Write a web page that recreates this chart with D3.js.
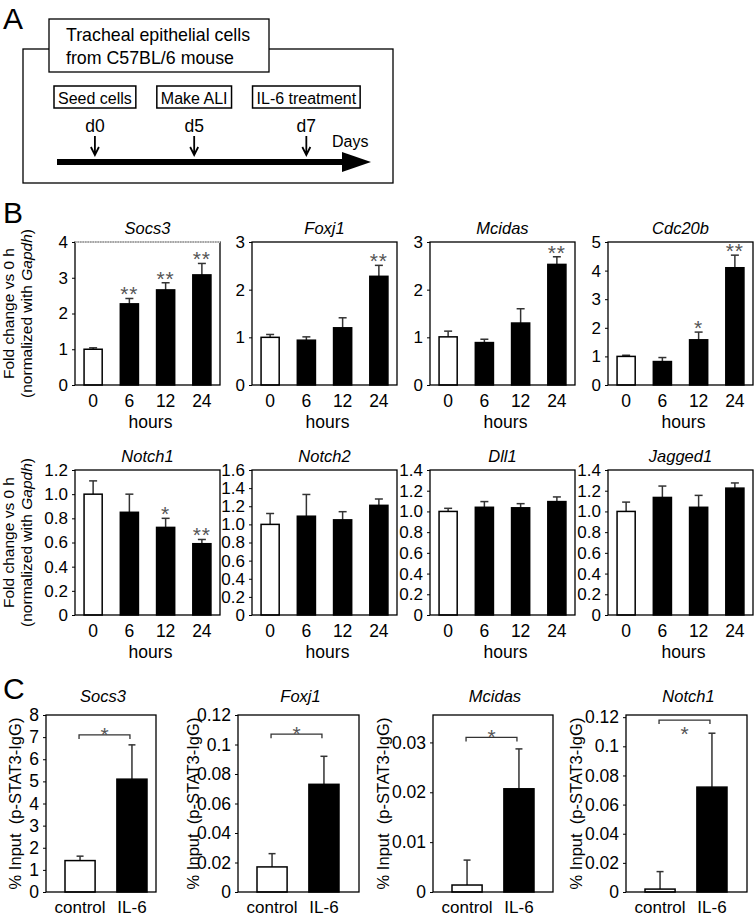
<!DOCTYPE html>
<html>
<head>
<meta charset="utf-8">
<script src="https://cdn.jsdelivr.net/npm/d3@7"></script>
<style>
	body { margin: 0; background: #fff; }
	svg text { font-family: "Liberation Sans", Arial, sans-serif; fill: #000; }
</style>
</head>
<body>
<div id="chart"></div>
<script>

// Panel A: protocol timeline
var titleLines = ["Tracheal epithelial cells", "from C57BL/6 mouse"];
var steps = ["Seed cells", "Make ALI", "IL-6 treatment"];
var stepDays = ["d0", "d5", "d7"];

// Panel B: fold change vs 0 h
var hours = ["0", "6", "12", "24"];
var bGenes = ["Socs3", "Foxj1", "Mcidas", "Cdc20b", "Notch1", "Notch2", "Dll1", "Jagged1"];
var bMeans = [
	[1.00, 2.27, 2.66, 3.08],
	[1.00, 0.94, 1.20, 2.28],
	[1.01, 0.89, 1.30, 2.53],
	[1.00, 0.82, 1.58, 4.10],
	[1.00, 0.85, 0.725, 0.59],
	[1.00, 1.09, 1.05, 1.21],
	[1.00, 1.04, 1.035, 1.095],
	[1.00, 1.135, 1.04, 1.225]
];
var bErrors = [
	[0.04, 0.15, 0.20, 0.32],
	[0.06, 0.07, 0.21, 0.23],
	[0.12, 0.07, 0.30, 0.16],
	[0.04, 0.14, 0.27, 0.44],
	[0.11, 0.15, 0.075, 0.035],
	[0.12, 0.24, 0.09, 0.07],
	[0.03, 0.055, 0.04, 0.045],
	[0.09, 0.11, 0.115, 0.05]
];
var bStars = [
	["", "**", "**", "**"],
	["", "", "", "**"],
	["", "", "", "**"],
	["", "", "*", "**"],
	["", "", "*", "**"],
	["", "", "", ""],
	["", "", "", ""],
	["", "", "", ""]
];
var bMax = [4, 3, 3, 5, 1.2, 1.6, 1.4, 1.4];
var bTicks = [
	[0, 1, 2, 3, 4],
	[0, 1, 2, 3],
	[0, 1, 2, 3],
	[0, 1, 2, 3, 4, 5],
	[0, 0.2, 0.4, 0.6, 0.8, 1.0, 1.2],
	[0, 0.2, 0.4, 0.6, 0.8, 1.0, 1.2, 1.4, 1.6],
	[0, 0.2, 0.4, 0.6, 0.8, 1.0, 1.2, 1.4],
	[0, 0.2, 0.4, 0.6, 0.8, 1.0, 1.2, 1.4]
];

// Panel C: p-STAT3 ChIP
var cGroups = ["control", "IL-6"];
var cGenes = ["Socs3", "Foxj1", "Mcidas", "Notch1"];
var cMeans = [
	[1.42, 5.10],
	[0.017, 0.073],
	[0.0014, 0.0207],
	[0.002, 0.072]
];
var cErrors = [
	[0.20, 1.55],
	[0.009, 0.019],
	[0.005, 0.008],
	[0.012, 0.037]
];
var cMax = [8, 0.12, 0.0355, 0.1215];
var cTicks = [
	[0, 1, 2, 3, 4, 5, 6, 7, 8],
	[0, 0.02, 0.04, 0.06, 0.08, 0.1, 0.12],
	[0, 0.01, 0.02, 0.03],
	[0, 0.02, 0.04, 0.06, 0.08, 0.1, 0.12]
];
var cBracket = [7.1, 0.107, 0.031, 0.118];
var cStars = ["*", "*", "*", "*"];


// Layout
var bCols = [75, 252, 430, 608], bW = 145;
var bRows = [242, 470], bH = [143, 145];
var cCols = [46, 238, 433, 626], cW = [110, 121, 120, 121];
var cTop = 715, cBottom = 892;
var cLabelX = [21, 199, 389, 582];

var svg = d3.select('#chart').append('svg')
	.attr('width', 756)
	.attr('height', 916);


function panelLetter(txt, y) {
	svg.append('text')
		.attr('x', 3).attr('y', y)
		.attr('font-size', 30)
		.text(txt);
}

function leftAxis(g, y, ticks, fmt, size) {
	var ax = g.append('g')
		.attr('transform', 'translate(' + y.x0 + ',0)')
		.call(d3.axisLeft(y).tickValues(ticks).tickSize(3).tickPadding(4).tickFormat(fmt));
	ax.attr('font-size', null).attr('font-family', null);
	ax.select('.domain').remove();
	ax.selectAll('line').attr('stroke', '#000');
	ax.selectAll('text').attr('font-size', size);
	return ax;
}

function errorBar(g, cx, yTop, yEnd, cap) {
	g.append('line')
		.attr('x1', cx).attr('x2', cx)
		.attr('y1', yTop).attr('y2', yEnd)
		.attr('stroke', '#333').attr('stroke-width', 1.5);
	g.append('line')
		.attr('x1', cx - cap / 2).attr('x2', cx + cap / 2)
		.attr('y1', yEnd).attr('y2', yEnd)
		.attr('stroke', '#333').attr('stroke-width', 1.5);
}


/* ---------- Panel A ---------- */
(function() {

	var g = svg.append('g');
	panelLetter('A', 29);

	g.append('rect')
		.attr('x', 23).attr('y', 49).attr('width', 370).attr('height', 134)
		.attr('fill', 'none').attr('stroke', '#000').attr('stroke-width', 1.3);

	g.append('rect')
		.attr('x', 49).attr('y', 19).attr('width', 220).attr('height', 53)
		.attr('fill', '#fff').attr('stroke', '#000').attr('stroke-width', 1.3);

	g.selectAll('.tl').data(titleLines).enter()
		.append('text')
		.attr('x', 66)
		.attr('y', (d, i) => 41 + i * 23)
		.attr('font-size', 17.8)
		.text((d) => d);

	// step boxes laid out left to right, arrow under each box centre
	var xPos = 54, gap = 21, centres = [];
	steps.forEach(function(s, i) {
		var t = g.append('text')
			.attr('y', 104)
			.attr('font-size', 16)
			.attr('text-anchor', 'middle')
			.text(s);
		var w = t.node().getComputedTextLength() + 8;
		var cx = xPos + w / 2;
		t.attr('x', cx);
		g.insert('rect', 'text')
			.attr('x', xPos).attr('y', 86).attr('width', w).attr('height', 22)
			.attr('fill', '#fff').attr('stroke', '#000').attr('stroke-width', 1.5);
		centres.push(cx);
		xPos += w + gap;
	});

	stepDays.forEach(function(d, i) {
		var cx = centres[i];
		g.append('text')
			.attr('x', cx).attr('y', 132)
			.attr('font-size', 17.5)
			.attr('text-anchor', 'middle')
			.text(d);
		g.append('path')
			.attr('d', 'M' + cx + ',136V155M' + (cx - 4) + ',147L' + cx + ',155L' + (cx + 4) + ',147')
			.attr('fill', 'none').attr('stroke', '#000').attr('stroke-width', 1.8);
	});

	g.append('text')
		.attr('x', 332).attr('y', 147)
		.attr('font-size', 16)
		.text('Days');

	g.append('line')
		.attr('x1', 57).attr('x2', 345).attr('y1', 162).attr('y2', 162)
		.attr('stroke', '#000').attr('stroke-width', 6);
	g.append('path')
		.attr('d', 'M342,152L371,162L342,172Z')
		.attr('fill', '#000');
})();


/* ---------- Panel B ---------- */
panelLetter('B', 223);

bGenes.forEach(function(gene, i) {

	var col = i % 4, row = Math.floor(i / 4);
	var x0 = bCols[col], y0 = bRows[row], h = bH[row];
	var g = svg.append('g');

	var x = d3.scaleBand()
		.domain(hours)
		.range([x0, x0 + bW])
		.paddingInner(0.5).paddingOuter(0.25);
	var y = d3.scaleLinear()
		.domain([0, bMax[i]])
		.range([y0 + h, y0]);
	y.x0 = x0;

	var fmt = row === 0 ? d3.format('d') : (d) => d === 0 ? '0' : d3.format('.1f')(d);
	leftAxis(g, y, bTicks[i], fmt, 17);

	g.append('text')
		.attr('x', x0 + bW / 2).attr('y', y0 - 8)
		.attr('font-size', 16.5).attr('font-style', 'italic')
		.attr('text-anchor', 'middle')
		.text(gene);

	hours.forEach(function(hr, j) {
		var v = bMeans[i][j], e = bErrors[i][j];
		var cx = x(hr) + x.bandwidth() / 2;

		errorBar(g, cx, y(v), y(v + e), 8);

		g.append('rect')
			.attr('x', x(hr)).attr('y', y(v))
			.attr('width', x.bandwidth()).attr('height', y(0) - y(v))
			.attr('fill', j === 0 ? '#fff' : '#000')
			.attr('stroke', '#000').attr('stroke-width', 1.5);

		if (bStars[i][j]) {
			g.append('text')
				.attr('x', cx).attr('y', y(v + e) + 3)
				.attr('font-size', 21).attr('letter-spacing', 1)
				.attr('text-anchor', 'middle')
				.style('fill', '#555')
				.text(bStars[i][j]);
		}

		g.append('text')
			.attr('x', cx).attr('y', y0 + h + 22)
			.attr('font-size', 17.5)
			.attr('text-anchor', 'middle')
			.text(hr);
	});

	g.append('text')
		.attr('x', x0 + bW / 2 + 3).attr('y', y0 + h + 43)
		.attr('font-size', 17.5)
		.attr('text-anchor', 'middle')
		.text('hours');

	g.append('rect')
		.attr('x', x0).attr('y', y0).attr('width', bW).attr('height', h)
		.attr('fill', 'none').attr('stroke', '#000').attr('stroke-width', 1.3);

	// first plot has a faint dotted top edge in the original scan
	if (i === 0) {
		g.append('line')
			.attr('x1', x0).attr('x2', x0 + bW).attr('y1', y0).attr('y2', y0)
			.attr('stroke', '#fff').attr('stroke-width', 1.6);
		g.append('line')
			.attr('x1', x0).attr('x2', x0 + bW).attr('y1', y0).attr('y2', y0)
			.attr('stroke', '#777').attr('stroke-width', 1.2)
			.attr('stroke-dasharray', '1.5,1');
	}

	// y label on first column only
	if (col === 0) {
		var cy = y0 + h / 2;
		g.append('text')
			.attr('transform', 'translate(14,' + cy + ') rotate(-90)')
			.attr('font-size', 15.5).attr('text-anchor', 'middle')
			.text('Fold change vs 0 h');
		var t2 = g.append('text')
			.attr('transform', 'translate(32,' + cy + ') rotate(-90)')
			.attr('font-size', 15.5).attr('text-anchor', 'middle');
		t2.append('tspan').text('(normalized with ');
		t2.append('tspan').attr('font-style', 'italic').text('Gapdh');
		t2.append('tspan').text(')');
	}
});


/* ---------- Panel C ---------- */
panelLetter('C', 699);

cGenes.forEach(function(gene, i) {

	var x0 = cCols[i], w = cW[i];
	var g = svg.append('g');

	var x = d3.scaleBand()
		.domain(cGroups)
		.range([x0 + 19, x0 + 101])
		.paddingInner(0.42);
	var y = d3.scaleLinear()
		.domain([0, cMax[i]])
		.range([cBottom, cTop]);
	y.x0 = x0;

	leftAxis(g, y, cTicks[i], (d) => String(d), 17.5);

	g.append('text')
		.attr('x', x0 + w / 2 + 2).attr('y', cTop - 13)
		.attr('font-size', 16.5).attr('font-style', 'italic')
		.attr('text-anchor', 'middle')
		.text(gene);

	cGroups.forEach(function(grp, j) {
		var v = cMeans[i][j], e = cErrors[i][j];
		var cx = x(grp) + x.bandwidth() / 2;

		errorBar(g, cx, y(v), y(v + e), 7);

		g.append('rect')
			.attr('x', x(grp)).attr('y', y(v))
			.attr('width', x.bandwidth()).attr('height', y(0) - y(v))
			.attr('fill', j === 0 ? '#fff' : '#000')
			.attr('stroke', '#000').attr('stroke-width', 1.5);

		g.append('text')
			.attr('x', cx).attr('y', 913)
			.attr('font-size', 17)
			.attr('text-anchor', 'middle')
			.text(grp);
	});

	// significance bracket
	var bx1 = x(cGroups[0]) + x.bandwidth() / 2 - 1;
	var bx2 = x(cGroups[1]) + x.bandwidth() / 2 - 2;
	var by = y(cBracket[i]);
	g.append('path')
		.attr('d', 'M' + bx1 + ',' + (by + 4) + 'V' + by + 'H' + bx2 + 'V' + (by + 4))
		.attr('fill', 'none').attr('stroke', '#333').attr('stroke-width', 1.3);
	var starBelow = i === 3;
	g.append('text')
		.attr('x', (bx1 + bx2) / 2).attr('y', starBelow ? by + 21 : by + 7)
		.attr('font-size', 21)
		.attr('text-anchor', 'middle')
		.style('fill', '#555')
		.text(cStars[i]);

	g.append('rect')
		.attr('x', x0).attr('y', cTop).attr('width', w).attr('height', cBottom - cTop)
		.attr('fill', 'none').attr('stroke', '#000').attr('stroke-width', 1.3);

	g.append('text')
		.attr('transform', 'translate(' + cLabelX[i] + ',' + ((cTop + cBottom) / 2) + ') rotate(-90)')
		.attr('font-size', 16.5).attr('text-anchor', 'middle')
		.style('white-space', 'pre')
		.text('% Input  (p-STAT3-IgG)');
});

</script>
</body>
</html>
